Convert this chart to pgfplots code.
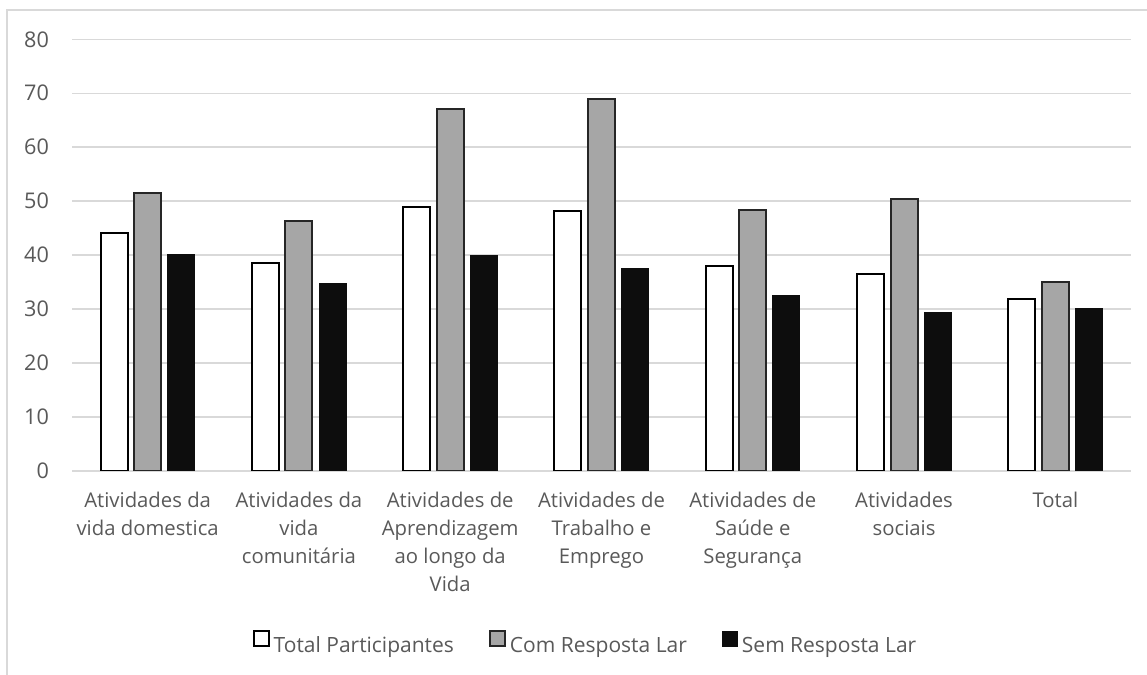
\documentclass[border=0pt]{standalone}
\usepackage{fontspec}
\setmainfont{Open Sans}
\usepackage{pgfplots}
\pgfplotsset{compat=1.18}
\definecolor{txt}{HTML}{595959}
\definecolor{gridc}{HTML}{D9D9D9}
\definecolor{midgray}{HTML}{A6A6A6}
\definecolor{nearblack}{HTML}{0D0D0D}
\pgfplotsset{sqlegend/.style={legend image code/.code={\draw[##1] (0pt,0pt) rectangle (7.5pt,7.5pt);}}}
\begin{document}
\begin{tikzpicture}
\useasboundingbox (0,0) rectangle (573.5pt,337.5pt);
\draw[gridc, line width=0.75pt] (3.5pt,0) -- (3.5pt,332.5pt) -- (580pt,332.5pt);
\begin{axis}[
  at={(36pt,102pt)}, anchor=south west,
  scale only axis, width=529.5pt, height=215.85pt,
  ybar=3.3pt, bar width=13.5pt,
  xmin=-0.5, xmax=6.5, ymin=0, ymax=80,
  ytick={0,10,...,80},
  xtick={0,...,6},
  xticklabels={{Atividades da\\vida domestica},{Atividades da\\vida\\comunitária},{Atividades de\\Aprendizagem\\ao longo da\\Vida},{Atividades de\\Trabalho e\\Emprego},{Atividades de\\Saúde e\\Segurança},{Atividades\\sociais},{Total}},
  ymajorgrids, grid style={gridc, line width=0.75pt},
  axis line style={draw=none},
  major tick length=0pt,
  tick label style={text=txt},
  /pgf/number format/assume math mode=true,
  yticklabel style={font=\fontsize{10.8}{14}\selectfont, xshift=-8pt},
  xticklabel style={font=\fontsize{10.15}{14}\selectfont, align=center, anchor=north, yshift=-6.9pt},
  legend style={at={(axis description cs:0.5,0)}, anchor=center, yshift=-87pt, xshift=-7.5pt,
    draw=none, font=\fontsize{10.5}{14}\selectfont, text=txt,
    /tikz/every even column/.append style={column sep=15.5pt}},
  legend columns=3,
]
% Total Participantes
\addplot[sqlegend, fill=white, draw=black, line width=1pt] coordinates {
  (0,44.1) (1,38.6) (2,49.0) (3,48.1) (4,37.9) (5,36.5) (6,31.9)};
\addlegendentry{Total Participantes}
% Com Resposta Lar
\addplot[sqlegend, fill=midgray, draw=black!85, line width=1pt] coordinates {
  (0,51.6) (1,46.3) (2,67.0) (3,69.0) (4,48.4) (5,50.4) (6,35.0)};
\addlegendentry{Com Resposta Lar}
% Sem Resposta Lar
\addplot[sqlegend, fill=nearblack, draw=nearblack, line width=0.5pt] coordinates {
  (0,40.2) (1,34.7) (2,40.0) (3,37.5) (4,32.5) (5,29.4) (6,30.15)};
\addlegendentry{Sem Resposta Lar}
\end{axis}
\end{tikzpicture}
\end{document}
